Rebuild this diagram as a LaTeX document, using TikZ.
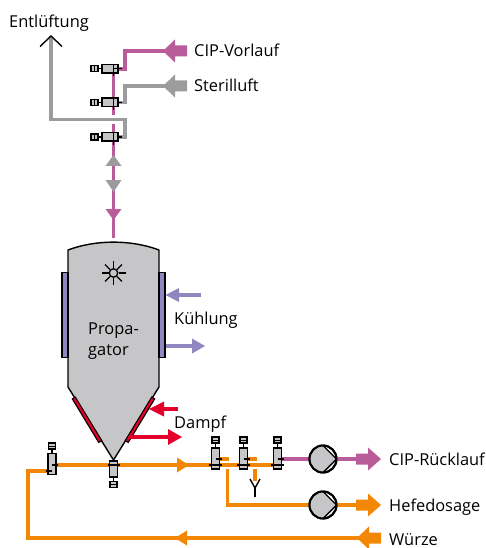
\documentclass[tikz,border=0pt]{standalone}
\usepackage{fontspec}
\setmainfont{Open Sans}
\usetikzlibrary{backgrounds}
\definecolor{pinkc}{HTML}{B85C9A}
\definecolor{grayc}{HTML}{9C9C9E}
\definecolor{orangec}{HTML}{F28705}
\definecolor{purplec}{HTML}{8F87BF}
\definecolor{redc}{HTML}{E4002B}
\definecolor{bodyc}{HTML}{C6C6C8}
\newcommand{\bigarrow}[5]{% x-tip, y, dir, head length, color
  \fill[#5] (#1,#2) -- ++(#3*#4,-11.5) -- ++(0,6) -- ++(#3*12,0) -- ++(0,11) -- ++(-#3*12,0) -- ++(0,6) -- cycle;}
\newcommand{\smallarrow}[5]{% x-tip, y, dir, head length, color
  \fill[#5] (#1,#2) -- ++(#3*#4,-7.5) -- ++(0,15) -- cycle;}
\tikzset{
  x=1pt,y=-1pt,
  pipe/.style={line width=3.5pt,line join=miter},
  body/.style={draw=black,fill=bodyc,line width=1.5pt,minimum width=0pt,minimum height=0pt,inner sep=0pt,rectangle},
  vbody/.style={body,minimum width=8pt,minimum height=21pt},
  hbody/.style={body,minimum width=16pt,minimum height=8.5pt},
  act/.style={draw=black,fill=bodyc,line width=1.4pt,minimum width=7pt,minimum height=6pt,inner sep=0pt,rectangle},
  stem/.style={line width=1.4pt,black},
  tick/.style={line width=1.4pt,black},
  lbl/.style={anchor=west,inner sep=0pt,font=\fontsize{16.4pt}{19pt}\selectfont,text=black},
  pump/.style={circle,draw=black,fill=white,line width=2pt,minimum size=27pt,inner sep=0pt},
}
\begin{document}
\begin{tikzpicture}
\useasboundingbox (0,0) rectangle (486,548);
% vessel
\draw[black,fill=bodyc,line width=1.4pt,line join=round] (68,250) .. controls (96,239.5) and (131,239.5) .. (159,250) -- (159,387) -- (113.5,460) -- (68,387) -- cycle;
\node[draw=black,fill=purplec,line width=1.1pt,minimum width=6pt,minimum height=85pt,inner sep=0pt] (jl) at (65,315) {};
\node[draw=black,fill=purplec,line width=1.1pt,minimum width=6pt,minimum height=85pt,inner sep=0pt] (jr) at (162,315) {};
\draw[black,line width=4.6pt] (73.5,397.5) -- (100.5,442);
\draw[redc,line width=2.2pt] (74.2,398.5) -- (99.9,441);
\draw[black,line width=4.6pt] (153.5,397.5) -- (126.5,442);
\draw[redc,line width=2.2pt] (152.8,398.5) -- (127.1,441);
% agitator
\node[circle,draw=black,line width=1.3pt,minimum size=8.5pt,inner sep=0pt] (stir) at (113.5,273) {};
\foreach \a in {0,45,...,315}{\draw[black,line width=1.3pt] ([shift={(\a:5)}]stir.center) -- ([shift={(\a:12)}]stir.center);}
\node[lbl,anchor=base west] (t1) at (88,334) {Propa-};
\node[lbl,anchor=base west] (t2) at (88,355) {gator};
% valves
\node[hbody] (v1) at (110,68.8) {}; \node[act] (a1) at (94.5,68.8) {};
\node[hbody] (v2) at (110,102.5) {}; \node[act] (a2) at (94.5,102.5) {};
\node[hbody] (v3) at (110,137) {}; \node[act] (a3) at (94.5,137) {};
\foreach \i in {1,2,3}{\draw[stem] (a\i) -- (v\i); \draw[line width=.9pt] (a\i.north) -- (a\i.south);}
\node[vbody] (b1) at (52,464) {}; \node[act] (c1) at (52,446) {};
\node[vbody,minimum height=16pt] (b2) at (113.5,469) {}; \node[act] (c2) at (113.5,484.5) {};
\node[vbody] (b3) at (215.5,458.5) {}; \node[act] (c3) at (215.5,440) {};
\node[vbody] (b4) at (243.5,458.5) {}; \node[act] (c4) at (243.5,440) {};
\node[vbody] (b5) at (277.5,458.5) {}; \node[act] (c5) at (277.5,440) {};
\foreach \i in {1,...,5}{\draw[stem] (c\i) -- (b\i); \draw[line width=.9pt] (c\i.west) -- (c\i.east);}
% pumps
\node[pump] (p1) at (323,459) {};
\node[pump] (p2) at (323,505) {};
\foreach \p in {p1,p2}{
  \fill[bodyc] ([shift={(0,-13)}]\p.center) arc[start angle=90,end angle=270,radius=13pt] -- ([shift={(13,0)}]\p.center) -- cycle;
  \draw[black,line width=1.4pt] ([shift={(0,-13.5)}]\p.center) -- ([shift={(13.5,0)}]\p.center) -- ([shift={(0,13.5)}]\p.center);
  \draw[black,line width=2pt] (\p.center) circle[radius=13.5pt];
}
% connector points
\coordinate (pinktop) at (165,51);
\coordinate (graytop) at (165,86);
\coordinate (vent) at (51,36);
\coordinate (w) at (360,538);
\coordinate (cipr) at (358,459);
\coordinate (hefe) at (358,505);
\coordinate (ysym) at (255,481);
\begin{pgfonlayer}{background}
\draw[pipe,pinkc] (v1.center) -- (125,68.8) -- (125,51) -- (pinktop);
\draw[pipe,grayc] (v2.center) -- (125,102.5) -- (125,86) -- (graytop);
\draw[pipe,grayc] (v3.center) -- (125,137) -- (125,119.5) -- (51,119.5) -- (vent);
\draw[pipe,pinkc] (113.5,72) -- (113.5,115);
\draw[pipe,pinkc] (113.5,124) -- (113.5,238);
\draw[pipe,orangec] (b1.center |- 0,471) -- (28,471) -- (28,538) -- (w);
\draw[pipe,orangec] (b1.center |- 0,465) -- (b5.center |- 0,465);
\draw[pipe,orangec] (b3.center |- 0,459) -- (229,459);
\draw[pipe,orangec] (b4.center |- 0,459) -- (257,459);
\draw[pipe,orangec] (227.5,469) -- (227.5,505) -- (p2);
\draw[pipe,orangec] (255,469) -- (ysym);
\draw[pipe,pinkc] (b5.center |- 0,459) -- (p1);
\draw[pipe,pinkc] (p1) -- (cipr);
\draw[pipe,orangec] (p2) -- (hefe);
\end{pgfonlayer}
% ticks in valves
\draw[tick] (114,68.8) -- (122,68.8);
\draw[tick] (113.5,64) -- (113.5,76);
\draw[tick] (113.5,98) -- (113.5,110);
\draw[tick] (118,102.5) -- (122,102.5);
\draw[tick] (113.5,133) -- (113.5,145);
\draw[tick] (118,137) -- (122,137);
\draw[tick] (52,465) -- (58,465);
\draw[tick] (45.5,471) -- (52,471);
\draw[tick] (107.5,465) -- (120,465);
\draw[tick] (209,465) -- (222,465); \draw[tick] (215.5,459) -- (222,459);
\draw[tick] (237,465) -- (250,465); \draw[tick] (243.5,459) -- (250,459);
\draw[tick] (271,465) -- (284,465); \draw[tick] (277.5,459) -- (284,459);
% arrows
\bigarrow{163}{51}{1}{12}{pinkc}
\bigarrow{163}{86}{1}{12}{grayc}
\bigarrow{381}{459}{-1}{13}{pinkc}
\bigarrow{381}{505}{-1}{13}{orangec}
\bigarrow{357}{538}{1}{12}{orangec}
\smallarrow{175}{538}{1}{12}{orangec}
\smallarrow{189}{465}{-1}{12}{orangec}
\fill[grayc] (113.5,155) -- (121.5,166) -- (105.5,166) -- cycle;
\fill[grayc] (113.5,192) -- (121.5,180) -- (105.5,180) -- cycle;
\fill[pinkc] (113.5,220) -- (121.5,209) -- (105.5,209) -- cycle;
% cooling and steam
\draw[purplec,line width=3.8pt] (177,295) -- (201,295);
\fill[purplec] (165.5,295) -- (179,288) -- (179,302) -- cycle;
\draw[purplec,line width=3.8pt] (jr.east |- 0,346) -- (194,346);
\fill[purplec] (205,346) -- (192,338.5) -- (192,353.5) -- cycle;
\draw[redc,line width=3.8pt] (162,409) -- (178,409);
\fill[redc] (149,409) -- (164,401.5) -- (164,416.5) -- cycle;
\draw[redc,line width=3.8pt] (129,437) -- (170,437);
\fill[redc] (182,437) -- (168,429) -- (168,445) -- cycle;
% vent head and Y
\draw[black,line width=1.4pt] (40,46.5) -- (vent) -- (62,46.5);
\draw[black,line width=1.4pt] (250,479) -- (255,488) -- (260,479);
\draw[black,line width=1.4pt] (255,488) -- (255,497);
% labels
\node[lbl,anchor=base west] (le) at (9,28) {Entlüftung};
\node[lbl,anchor=base west] (lc) at (194,57) {CIP-Vorlauf};
\node[lbl,anchor=base west] (ls) at (194,92) {Sterilluft};
\node[lbl,anchor=base west] (lk) at (174,324) {Kühlung};
\node[lbl,anchor=base west] (ld) at (174,428) {Dampf};
\node[lbl,anchor=base west] (lr) at (389,465) {CIP-Rücklauf};
\node[lbl,anchor=base west] (lh) at (389,511) {Hefedosage};
\node[lbl,anchor=base west] (lw) at (389,545) {Würze};
\end{tikzpicture}
\end{document}
